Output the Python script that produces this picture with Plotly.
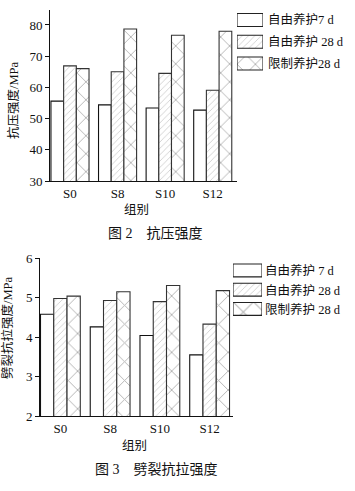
import plotly.graph_objects as go

# ---------------- data ----------------
groups = ["S0", "S8", "S10", "S12"]

top_series = ["自由养护7 d", "自由养护 28 d", "限制养护28 d"]
bottom_series = ["自由养护 7 d", "自由养护 28 d", "限制养护 28 d"]

comp_free7 = [55.6, 54.4, 53.4, 52.7]
comp_free28 = [66.9, 65.0, 64.5, 59.1]
comp_restr28 = [66.0, 78.7, 76.7, 78.0]

split_free7 = [4.58, 4.26, 4.04, 3.55]
split_free28 = [4.98, 4.93, 4.90, 4.33]
split_restr28 = [5.04, 5.15, 5.31, 5.18]

comp_ticks = [30, 40, 50, 60, 70, 80]
split_ticks = [2, 3, 4, 5, 6]

# ---------------- styling ----------------
W, H = 355, 491
SERIF = "Liberation Serif, Times New Roman, Noto Sans CJK SC, serif"
shapes = ["", "/", "x"]
fg = ["#000000", "#777777", "#666666"]
outline = ["#111111", "#333333", "#333333"]
line_w = 1.1


def px_x(v):
    return v / W


def px_y(v):
    return 1 - v / H


fig = go.Figure()

top_vals = [comp_free7, comp_free28, comp_restr28]
bot_vals = [split_free7, split_free28, split_restr28]
cross_sizes_top = [5, 4.5, 12.7]
cross_sizes_bot = [5, 4.5, 13.3]

for i, name in enumerate(top_series):
    fig.add_trace(go.Bar(
        x=groups, y=top_vals[i], name=name, xaxis="x", yaxis="y",
        offsetgroup=str(i), showlegend=False,
        marker=dict(color="white", line=dict(color=outline[i], width=line_w),
                    pattern=dict(shape=shapes[i], fgcolor=fg[i], bgcolor="white",
                                 size=cross_sizes_top[i], solidity=0.14)),
    ))

for i, name in enumerate(bottom_series):
    fig.add_trace(go.Bar(
        x=groups, y=bot_vals[i], name=name, xaxis="x2", yaxis="y2",
        offsetgroup=str(i), showlegend=False,
        marker=dict(color="white", line=dict(color=outline[i], width=line_w),
                    pattern=dict(shape=shapes[i], fgcolor=fg[i], bgcolor="white",
                                 size=cross_sizes_bot[i], solidity=0.14)),
    ))

# legend swatches (custom, larger boxes as in the reference)
fig.add_trace(go.Bar(
    x=[1, 1, 1], y=[0, 1, 2], orientation="h", xaxis="x3", yaxis="y3",
    width=0.6, showlegend=False, hoverinfo="skip",
    marker=dict(color="white", line=dict(color="#222", width=line_w),
                pattern=dict(shape=shapes, fgcolor=fg, bgcolor="white",
                             size=[5, 4.5, 13], solidity=0.14)),
))
fig.add_trace(go.Bar(
    x=[1, 1, 1], y=[0, 1, 2], orientation="h", xaxis="x4", yaxis="y4",
    width=0.67, showlegend=False, hoverinfo="skip",
    marker=dict(color="white", line=dict(color="#222", width=line_w),
                pattern=dict(shape=shapes, fgcolor=fg, bgcolor="white",
                             size=[5, 4.5, 14.5], solidity=0.14)),
))

axis_common = dict(showline=True, linecolor="#111", linewidth=1, showgrid=False,
                   zeroline=False, automargin=False,
                   tickfont=dict(family=SERIF, size=13, color="#111"))

hidden = dict(visible=False, showgrid=False, zeroline=False, fixedrange=True,
              automargin=False)

fig.update_layout(
    width=W, height=H,
    margin=dict(l=0, r=0, t=0, b=0, pad=0, autoexpand=False),
    paper_bgcolor="white", plot_bgcolor="white",
    barmode="group", bargap=0.2, bargroupgap=0,
    showlegend=False,
    xaxis=dict(domain=[px_x(50), px_x(237)], anchor="y", range=[-0.42, 3.51],
               ticks="", **axis_common),
    yaxis=dict(domain=[px_y(181), px_y(10)], anchor="x", range=[30, 84.8],
               tickvals=comp_ticks, ticks="outside", ticklen=4, tickcolor="#111",
               **axis_common),
    xaxis2=dict(domain=[px_x(40), px_x(233)], anchor="y2", range=[-0.41, 3.47],
                ticks="", **axis_common),
    yaxis2=dict(domain=[px_y(416), px_y(258.3)], anchor="x2", range=[2, 6],
                tickvals=split_ticks, ticks="outside", ticklen=4, tickcolor="#111",
                **axis_common),
    xaxis3=dict(domain=[px_x(237), px_x(263)], anchor="y3", range=[0, 1], **hidden),
    yaxis3=dict(domain=[px_y(74.4), px_y(9.1)], anchor="x3", range=[2.5, -0.5], **hidden),
    xaxis4=dict(domain=[px_x(233), px_x(262)], anchor="y4", range=[0, 1], **hidden),
    yaxis4=dict(domain=[px_y(318.6), px_y(260.8)], anchor="x4", range=[2.5, -0.5], **hidden),
)

ann_font = dict(family=SERIF, size=12.5, color="#111")
annotations = []
# legend texts
for i, (name, yc) in enumerate(zip(top_series, [20, 41.5, 63.5])):
    annotations.append(dict(text=name, x=px_x(266), y=px_y(yc), xref="paper", yref="paper",
                            xanchor="left", yanchor="middle", showarrow=False, font=ann_font))
for i, (name, yc) in enumerate(zip(bottom_series, [270.5, 290.5, 309])):
    annotations.append(dict(text=name, x=px_x(263), y=px_y(yc), xref="paper", yref="paper",
                            xanchor="left", yanchor="middle", showarrow=False, font=ann_font))
# axis titles
annotations += [
    dict(text="抗压强度/MPa", x=px_x(13), y=px_y(100), xref="paper", yref="paper",
         textangle=-90, showarrow=False, font=ann_font, xanchor="center", yanchor="middle"),
    dict(text="劈裂抗拉强度/MPa", x=px_x(7), y=px_y(328), xref="paper", yref="paper",
         textangle=-90, showarrow=False, font=ann_font, xanchor="center", yanchor="middle"),
    dict(text="组别", x=px_x(136), y=px_y(210), xref="paper", yref="paper",
         showarrow=False, font=ann_font, xanchor="center", yanchor="middle"),
    dict(text="组别", x=px_x(134), y=px_y(446), xref="paper", yref="paper",
         showarrow=False, font=ann_font, xanchor="center", yanchor="middle"),
    dict(text="图 2　抗压强度", x=px_x(155), y=px_y(233), xref="paper", yref="paper",
         showarrow=False, font=dict(family=SERIF, size=14, color="#111"),
         xanchor="center", yanchor="middle"),
    dict(text="图 3　劈裂抗拉强度", x=px_x(156), y=px_y(469), xref="paper", yref="paper",
         showarrow=False, font=dict(family=SERIF, size=14, color="#111"),
         xanchor="center", yanchor="middle"),
]
fig.update_layout(annotations=annotations)

fig.write_html(
    "out.html",
    config={"displayModeBar": False},
    post_script="document.body.style.margin='0px';document.body.style.overflow='hidden';",
)
